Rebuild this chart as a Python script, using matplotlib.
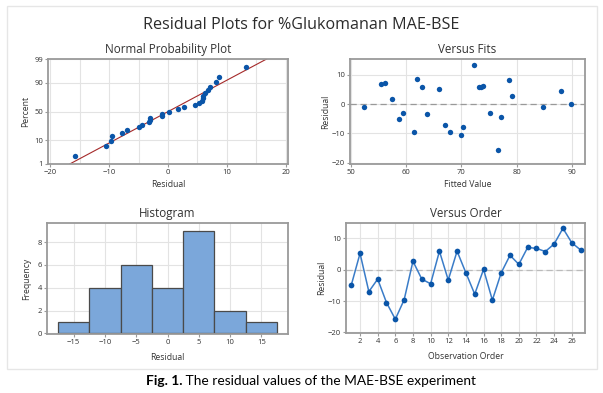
import numpy as np
import matplotlib
matplotlib.use('Agg')
from matplotlib import pyplot as plt
from matplotlib.patches import Rectangle
from statistics import NormalDist

plt.rcParams['font.family'] = ['Open Sans', 'DejaVu Sans']

# residuals in observation order, and the fitted value of each observation
residual = [-5.0, 5.2, -7.0, -3.0, -10.5, -15.8, -9.6, 2.7, -3.0, -4.5,
            5.9, -3.3, 5.9, -1.0, -7.8, 0.1, -9.7, -1.0, 4.6, 1.7,
            7.1, 6.8, 5.8, 8.2, 13.2, 8.6, 6.3]
fitted = [58.7, 65.9, 67.0, 59.4, 70.0, 76.7, 61.4, 79.1, 75.2, 77.2,
          73.2, 63.8, 73.5, 52.3, 70.2, 89.8, 68.0, 84.7, 88.0, 57.5,
          56.2, 55.5, 62.8, 78.7, 72.2, 62.0, 74.0]
hist_edges = [-17.5, -12.5, -7.5, -2.5, 2.5, 7.5, 12.5, 17.5]
prob_ticks = [1, 10, 50, 90, 99]

res = np.array(residual)
n = len(res)
nd = NormalDist()

dot = '#0a55a8'
grid_c = '#e3e3e3'
spine_c = '#9a9a9a'
txt_c = '#333333'

fig = plt.figure(figsize=(6.03, 3.93), dpi=100)
W, H = 603, 393


def box(l, t, r, b):
    return [l / W, 1 - b / H, (r - l) / W, (b - t) / H]


def style(ax):
    for s in ax.spines.values():
        s.set_color(spine_c)
        s.set_linewidth(1.3)
    ax.tick_params(labelsize=5.5, length=2, color=spine_c, labelcolor=txt_c, pad=1.5)
    ax.set_axisbelow(True)


fig.add_artist(Rectangle((7 / W, 1 - 369 / H), 590 / W, 363 / H, transform=fig.transFigure,
                         fill=False, edgecolor='#e6e6e6', lw=1))

fig.text(0.5, 1 - 25 / H, 'Residual Plots for %Glukomanan MAE-BSE', ha='center', va='center',
         fontsize=11.6, color='#2b2b2b')

# normal probability plot
ax1 = fig.add_axes(box(48, 59, 288, 164))
style(ax1)
srt = np.sort(res)
pct = [(i + 1 - 0.3) / (n + 0.4) for i in range(n)]
z = [nd.inv_cdf(p) for p in pct]
mu, sd = res.mean(), res.std(ddof=1)
zl = np.array([nd.inv_cdf(0.01), nd.inv_cdf(0.99)])
ax1.plot(mu + sd * zl, zl, color='#a52a2a', lw=0.8, zorder=2)
ax1.scatter(srt, z, s=15, color=dot, zorder=3, linewidths=0)
ax1.set_xlim(-20.4, 20.4)
ax1.set_ylim(nd.inv_cdf(0.01), nd.inv_cdf(0.99))
ax1.set_xticks([-20, -10, 0, 10, 20])
ax1.set_xticks(np.arange(-20, 21, 5), minor=True)
ax1.set_yticks([nd.inv_cdf(p / 100) for p in prob_ticks])
ax1.set_yticklabels([str(p) for p in prob_ticks])
ax1.tick_params(which='minor', length=0)
ax1.grid(True, which='both', color=grid_c, lw=0.8)
ax1.set_title('Normal Probability Plot', fontsize=8.4, color=txt_c, pad=4)
ax1.set_xlabel('Residual', fontsize=6.2, color=txt_c, labelpad=3)
ax1.set_ylabel('Percent', fontsize=6.2, color=txt_c, labelpad=3)

# versus fits
ax2 = fig.add_axes(box(350, 59, 585, 164))
style(ax2)
ax2.scatter(fitted, residual, s=15, color=dot, zorder=3, linewidths=0)
ax2.axhline(0, color='#999999', lw=0.9, ls=(0, (5, 3)), zorder=2)
ax2.set_xlim(49.8, 92.4)
ax2.set_ylim(-20.5, 15.4)
ax2.set_xticks([50, 60, 70, 80, 90])
ax2.set_yticks([-20, -10, 0, 10])
ax2.grid(True, color=grid_c, lw=0.8)
ax2.set_title('Versus Fits', fontsize=8.4, color=txt_c, pad=4)
ax2.set_xlabel('Fitted Value', fontsize=6.2, color=txt_c, labelpad=3)
ax2.set_ylabel('Residual', fontsize=6.2, color=txt_c, labelpad=1)

# histogram
ax3 = fig.add_axes(box(47, 223, 288, 334))
style(ax3)
ax3.hist(res, bins=hist_edges, color='#7ba7da', edgecolor='#4a4a4a', lw=0.9, zorder=2)
ax3.set_xlim(-19.25, 19.25)
ax3.set_ylim(-0.05, 9.67)
ax3.set_xticks([-15, -10, -5, 0, 5, 10, 15])
ax3.set_yticks([0, 2, 4, 6, 8])
ax3.grid(True, color=grid_c, lw=0.8)
ax3.set_title('Histogram', fontsize=8.4, color=txt_c, pad=4)
ax3.set_xlabel('Residual', fontsize=6.2, color=txt_c, labelpad=5)
ax3.set_ylabel('Frequency', fontsize=6.2, color=txt_c, labelpad=5)

# versus order
ax4 = fig.add_axes(box(346, 223, 585, 333))
style(ax4)
order = np.arange(1, n + 1)
ax4.plot(order, res, color='#3a7cc8', lw=1.1, zorder=3)
ax4.scatter(order, res, s=17, color=dot, zorder=4, linewidths=0)
ax4.axhline(0, color='#bbbbbb', lw=0.9, ls=(0, (5, 3)), zorder=2)
ax4.set_xlim(0.41, 27.5)
ax4.set_ylim(-20.2, 14.9)
ax4.set_xticks(np.arange(2, 27, 2))
ax4.set_yticks([-20, -10, 0, 10])
ax4.grid(True, color=grid_c, lw=0.8)
ax4.set_title('Versus Order', fontsize=8.4, color=txt_c, pad=4)
ax4.set_xlabel('Observation Order', fontsize=6.2, color=txt_c, labelpad=5)
ax4.set_ylabel('Residual', fontsize=6.2, color=txt_c, labelpad=1)

# caption
t1 = fig.text(146 / W, 1 - 381 / H, 'Fig. 1.', fontsize=9.9, weight='bold', ha='left', va='center',
              family=['Lato', 'DejaVu Sans'])
ax1.annotate(' The residual values of the MAE-BSE experiment', xy=(1, 0.5), xycoords=t1,
             va='center', ha='left', fontsize=9.9, annotation_clip=False,
             family=['Lato', 'DejaVu Sans'])

fig.savefig('out.png', dpi=100)
